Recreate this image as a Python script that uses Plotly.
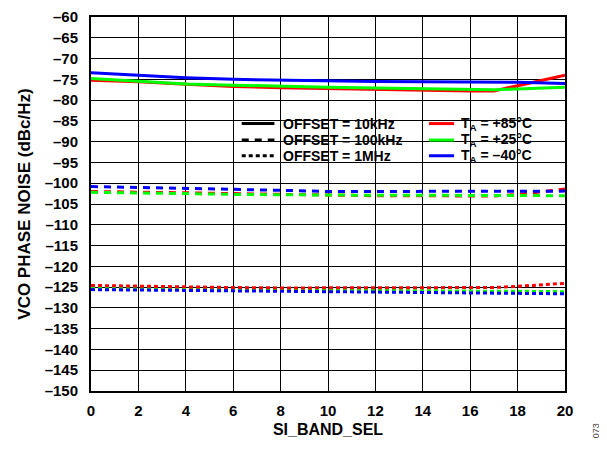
import plotly.graph_objects as go

# SI_BAND_SEL settings
band_sel = [0, 2, 4, 6, 8, 10, 12, 14, 16, 17, 18, 20]

# VCO phase noise (dBc/Hz), offset = 10kHz
pn_10k_85 = [-75.2, -75.6, -76.2, -76.7, -77.0, -77.2, -77.4, -77.7, -77.8, -77.8, -76.5, -74.0]
pn_10k_25 = [-74.8, -75.4, -76.1, -76.4, -76.7, -76.9, -77.1, -77.3, -77.5, -77.5, -77.3, -76.9]
pn_10k_m40 = [-73.4, -74.0, -74.6, -75.0, -75.2, -75.4, -75.5, -75.6, -75.6, -75.6, -75.7, -76.0]

# offset = 100kHz
pn_100k_85 = [-102.0, -102.1, -102.3, -102.5, -102.7, -102.9, -103.0, -103.0, -103.1, -103.1, -102.7, -101.4]
pn_100k_25 = [-102.2, -102.3, -102.5, -102.7, -102.8, -102.9, -102.9, -102.9, -102.9, -103.0, -103.0, -103.0]
pn_100k_m40 = [-100.8, -101.0, -101.3, -101.5, -101.7, -102.0, -102.0, -102.0, -102.0, -102.0, -102.0, -101.9]

# offset = 1MHz
pn_1m_85 = [-124.6, -124.8, -125.0, -125.1, -125.2, -125.2, -125.2, -125.2, -125.2, -125.1, -124.8, -124.1]
pn_1m_25 = [-125.3, -125.4, -125.5, -125.6, -125.7, -125.8, -125.9, -126.0, -126.0, -126.0, -126.0, -126.1]
pn_1m_m40 = [-125.6, -125.7, -125.9, -126.0, -126.1, -126.2, -126.3, -126.4, -126.4, -126.5, -126.5, -126.6]

y_ticks = list(range(-60, -151, -5))
y_tick_text = ['–' + str(abs(v)) for v in y_ticks]
x_ticks = list(range(0, 21, 2))

offset_labels = ['OFFSET = 10kHz', 'OFFSET = 100kHz', 'OFFSET = 1MHz']
temp_labels = ['T<sub>A</sub> = +85°C', 'T<sub>A</sub> = +25°C', 'T<sub>A</sub> = –40°C']

RED, GREEN, BLUE = '#FF0000', '#00FF00', '#0000FF'
DASH = {'solid': 'solid', 'dash': '7px,6px', 'dot': '4px,3px'}
FONT = 'Liberation Sans, Arial, sans-serif'

series = [
    (pn_10k_85, RED, 'solid'), (pn_10k_25, GREEN, 'solid'), (pn_10k_m40, BLUE, 'solid'),
    (pn_100k_85, RED, 'dash'), (pn_100k_25, GREEN, 'dash'), (pn_100k_m40, BLUE, 'dash'),
    (pn_1m_25, GREEN, 'dot'), (pn_1m_m40, BLUE, 'dot'), (pn_1m_85, RED, 'dot'),
]

fig = go.Figure()

for vals, color, dash in series:
    fig.add_trace(go.Scatter(
        x=band_sel, y=vals, mode='lines', showlegend=False,
        line=dict(color=color, width=3, dash=DASH[dash]),
    ))

# hand-drawn legend: white box hiding the grid, then samples and labels
fig.add_shape(type='rect', xref='paper', yref='paper', x0=0.2996, x1=0.951, y0=0.608, y1=0.738,
              fillcolor='white', line_width=0, layer='between')

rows_y = [0.715, 0.671, 0.629]
for y, label, dash in zip(rows_y, offset_labels, ['solid', 'dash', 'dot']):
    fig.add_shape(type='line', xref='paper', yref='paper', x0=0.318, x1=0.387, y0=y, y1=y,
                  line=dict(color='black', width=3, dash=DASH[dash]))
    fig.add_annotation(text='<b>' + label + '</b>', xref='paper', yref='paper', x=0.400, y=y,
                       xanchor='left', yanchor='middle', showarrow=False,
                       font=dict(family=FONT, size=14, color='black'))
for y, label, color in zip(rows_y, temp_labels, [RED, GREEN, BLUE]):
    fig.add_shape(type='line', xref='paper', yref='paper', x0=0.713, x1=0.766, y0=y, y1=y,
                  line=dict(color=color, width=3))
    fig.add_annotation(text='<b>' + label + '</b>', xref='paper', yref='paper', x=0.776, y=y,
                       xanchor='left', yanchor='middle', showarrow=False,
                       font=dict(family=FONT, size=14, color='black'))

# page body adds an 8px margin, so the figure is 8px smaller than the window
fig.update_layout(
    width=599, height=441,
    margin=dict(l=83, r=42, t=9, b=58),
    paper_bgcolor='white', plot_bgcolor='white',
    font=dict(family=FONT, size=15, color='black'),
    showlegend=False,
    xaxis=dict(
        range=[0, 20], tickvals=x_ticks, showgrid=True, gridcolor='black', gridwidth=1,
        showline=True, linecolor='black', linewidth=2, mirror=True, ticks='',
        zeroline=False, ticklabelstandoff=5, ticklabeloverflow='allow', automargin=False,
        tickfont=dict(family=FONT, size=15, weight='bold'),
        title=dict(text='<b>SI_BAND_SEL</b>', font=dict(family=FONT, size=16), standoff=6),
    ),
    yaxis=dict(
        range=[-150, -60], tickvals=y_ticks, ticktext=y_tick_text, showgrid=True,
        gridcolor='black', gridwidth=1, showline=True, linecolor='black', linewidth=2,
        mirror=True, ticks='', zeroline=False, ticklabelstandoff=8, ticklabeloverflow='allow',
        automargin=False,
        tickfont=dict(family=FONT, size=15, weight='bold'),
        title=dict(text='<b>VCO PHASE NOISE (dBc/Hz)</b>', font=dict(family=FONT, size=17), standoff=10),
    ),
)

fig.add_annotation(text='073', xref='paper', yref='paper', x=1.079, y=-0.132, showarrow=False,
                   textangle=-90, font=dict(family=FONT, size=9, color='#444'))

fig.write_html('out.html')
